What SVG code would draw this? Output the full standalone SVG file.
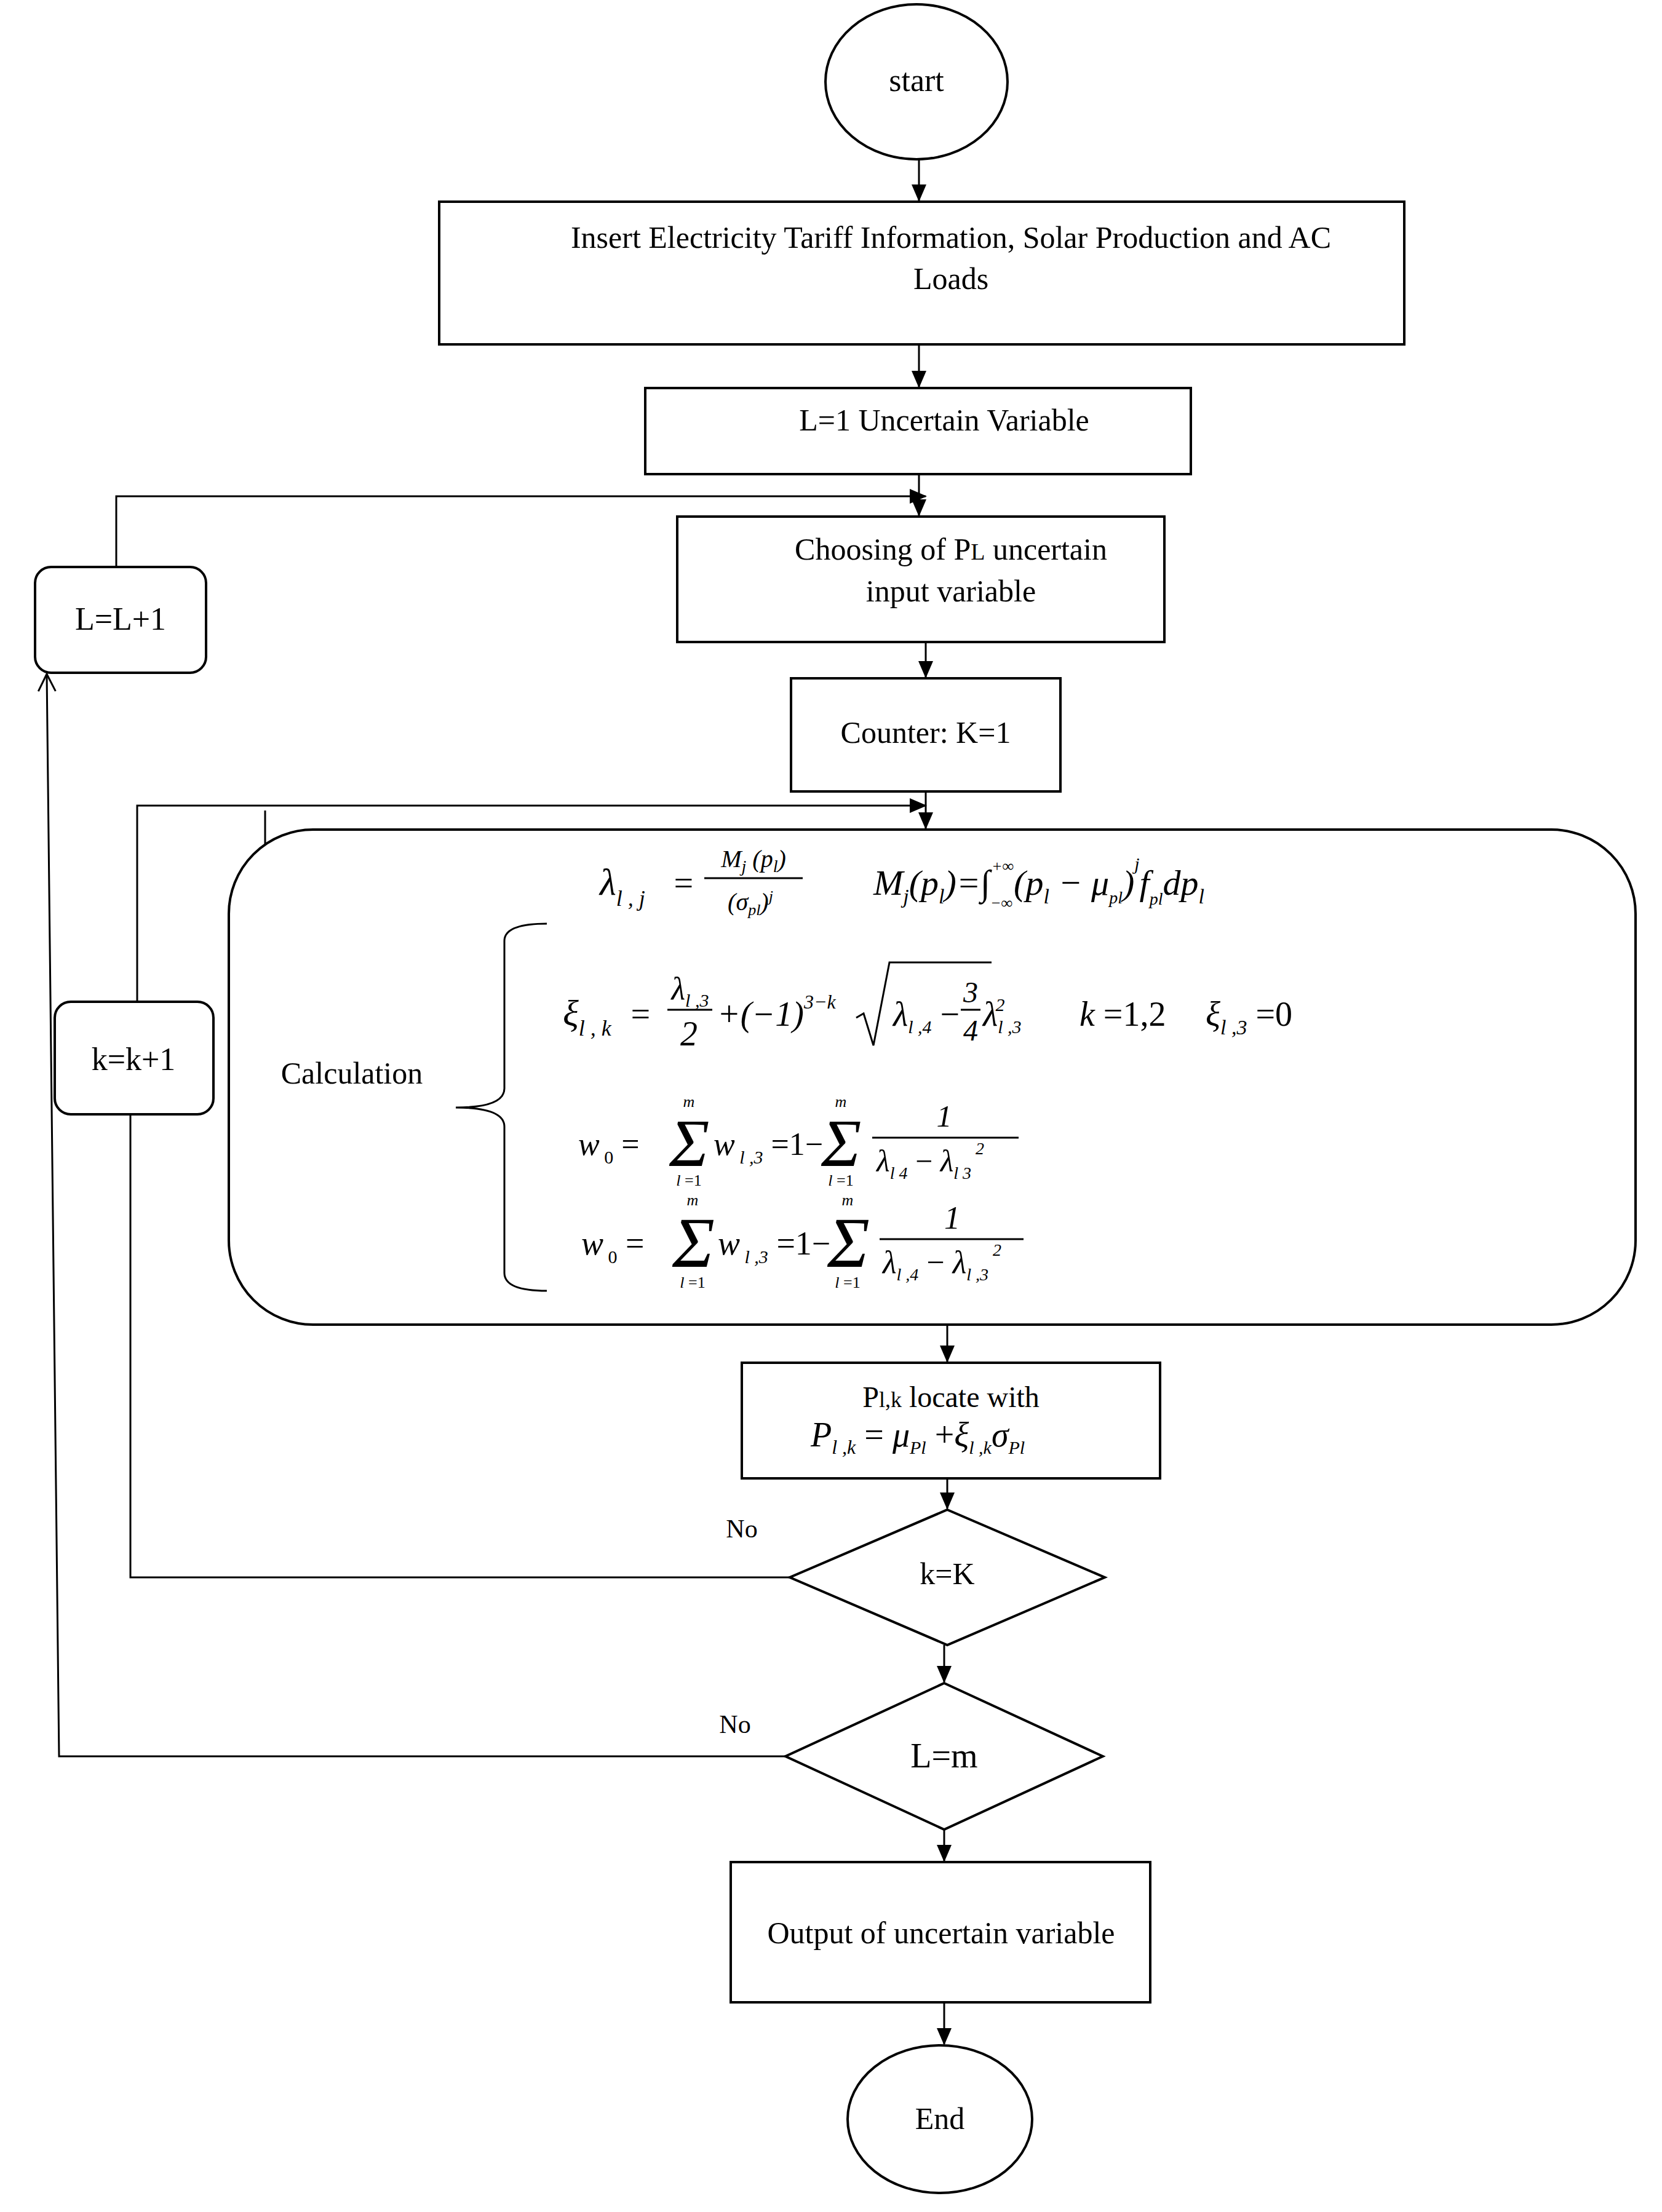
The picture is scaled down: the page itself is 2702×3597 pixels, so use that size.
<svg xmlns="http://www.w3.org/2000/svg" width="2702" height="3597" viewBox="0 0 2702 3597">
<defs>
<marker id="ahf" markerWidth="28" markerHeight="28" refX="26" refY="14" orient="auto" markerUnits="userSpaceOnUse"><path d="M0,2 L28,14 L0,26 z" fill="#000"/></marker>
<marker id="aho" markerWidth="32" markerHeight="32" refX="30" refY="16" orient="auto" markerUnits="userSpaceOnUse"><path d="M2,2 L30,16 L2,30" fill="none" stroke="#000" stroke-width="3"/></marker>
<style>
.n{fill:#fff;stroke:#000;stroke-width:4}
.t{font-family:"Liberation Serif",serif;font-size:52px;fill:#000;text-anchor:middle}
.m{font-family:"Liberation Serif",serif;font-style:italic;fill:#000}
.c{fill:none;stroke:#000;stroke-width:3}
.fl{stroke:#000;stroke-width:3}
</style>
</defs>
<rect width="2702" height="3597" fill="#fff"/>
<g id="connectors">
<line class="c" x1="1494" y1="259" x2="1494" y2="326" marker-end="url(#ahf)"/>
<line class="c" x1="1494" y1="560" x2="1494" y2="629" marker-end="url(#ahf)"/>
<line class="c" x1="1494" y1="771" x2="1494" y2="838" marker-end="url(#ahf)"/>
<polyline class="c" points="189,922 189,807 1505,807" marker-end="url(#ahf)"/>
<line class="c" x1="1505" y1="1044" x2="1505" y2="1101" marker-end="url(#ahf)"/>
<polyline class="c" points="223,1629 223,1310 1505,1310" marker-end="url(#ahf)"/>
<line class="c" x1="1505" y1="1287" x2="1505" y2="1347" marker-end="url(#ahf)"/>
<line class="c" x1="431" y1="1318" x2="431" y2="1400"/>
<line class="c" x1="1540" y1="2154" x2="1540" y2="2214" marker-end="url(#ahf)"/>
<line class="c" x1="1540" y1="2404" x2="1540" y2="2453" marker-end="url(#ahf)"/>
<polyline class="c" points="1284,2565 212,2565 212,1812"/>
<line class="c" x1="1535" y1="2675" x2="1535" y2="2735" marker-end="url(#ahf)"/>
<polyline class="c" points="1277,2856 96,2856 76,1096" marker-end="url(#aho)"/>
<line class="c" x1="1535" y1="2975" x2="1535" y2="3026" marker-end="url(#ahf)"/>
<line class="c" x1="1535" y1="3256" x2="1535" y2="3324" marker-end="url(#ahf)"/>
<text class="t" x="1206" y="2500" style="font-size:42px">No</text>
<text class="t" x="1195" y="2818" style="font-size:42px">No</text>
</g>
<g id="start"><ellipse class="n" cx="1490" cy="133" rx="148" ry="126"/><text class="t" x="1490" y="148">start</text></g>
<g id="insert"><rect class="n" x="714" y="328" width="1569" height="232"/><text class="t" x="1546" y="403" style="font-size:50px">Insert Electricity Tariff Information, Solar Production and AC</text><text class="t" x="1546" y="470" style="font-size:50px">Loads</text></g>
<g id="l1"><rect class="n" x="1049" y="631" width="887" height="140"/><text class="t" x="1535" y="700" style="font-size:50px">L=1 Uncertain Variable</text></g>
<g id="choose"><rect class="n" x="1101" y="840" width="792" height="204"/><text class="t" x="1546" y="910" style="font-size:50px">Choosing of P<tspan style="font-size:38px">L</tspan> uncertain</text><text class="t" x="1546" y="978" style="font-size:50px">input variable</text></g>
<g id="linc"><rect class="n" x="57" y="922" width="278" height="172" rx="26"/><text class="t" x="196" y="1024">L=L+1</text></g>
<g id="counter"><rect class="n" x="1286" y="1103" width="438" height="184"/><text class="t" x="1505" y="1208" style="font-size:50px">Counter: K=1</text></g>
<g id="kinc"><rect class="n" x="89" y="1629" width="258" height="183" rx="26"/><text class="t" x="217" y="1740">k=k+1</text></g>
<g id="calc">
<rect class="n" x="372" y="1349" width="2287" height="805" rx="137"/>
<text class="t" x="572" y="1762" style="font-size:50px">Calculation</text>
<path class="c" d="M889,1502 Q820,1502 820,1530 L820,1770 Q820,1801 741,1801 Q820,1801 820,1832 L820,2070 Q820,2099 889,2099" stroke-width="3"/>
<text class="m" x="975" y="1455" font-size="62">λ<tspan font-size="36" dy="18">l , j</tspan></text>
<text class="m" x="1092" y="1455" font-size="56" font-style="normal">=</text>
<text class="m" x="1225" y="1410" font-size="40" text-anchor="middle">M<tspan font-size="28" dy="8">j</tspan><tspan dy="-8"> (p</tspan><tspan font-size="28" dy="8">l</tspan><tspan dy="-8">)</tspan></text>
<line class="fl" x1="1145" y1="1428" x2="1305" y2="1428"/>
<text class="m" x="1220" y="1480" font-size="40" text-anchor="middle">(σ<tspan font-size="26" dy="8">pl</tspan><tspan dy="-8">)</tspan><tspan font-size="26" dy="-14">j</tspan></text>
<text class="m" x="1420" y="1455" font-size="58">M<tspan font-size="34" dy="14">j</tspan><tspan dy="-14">(p</tspan><tspan font-size="34" dy="14">l</tspan><tspan dy="-14">)=∫</tspan><tspan font-size="26" dy="22">−∞</tspan><tspan font-size="26" dx="-34" dy="-60">+∞</tspan><tspan dy="38">(p</tspan><tspan font-size="34" dy="14">l</tspan><tspan dy="-14"> − μ</tspan><tspan font-size="28" dy="14">pl</tspan><tspan dy="-14">)</tspan><tspan font-size="30" dy="-40">j</tspan><tspan dy="40">f</tspan><tspan font-size="28" dy="16">pl</tspan><tspan dy="-16">dp</tspan><tspan font-size="34" dy="14">l</tspan></text>
<text class="m" x="915" y="1668" font-size="60">ξ<tspan font-size="36" dy="16">l , k</tspan></text>
<text class="m" x="1022" y="1668" font-size="56" font-style="normal">=</text>
<text class="m" x="1122" y="1625" font-size="52" text-anchor="middle">λ<tspan font-size="30" dy="12">l ,3</tspan></text>
<line class="fl" x1="1085" y1="1642" x2="1158" y2="1642"/>
<text class="m" x="1120" y="1700" font-size="56" font-style="normal" text-anchor="middle">2</text>
<text class="m" x="1166" y="1668" font-size="56" font-style="normal">+(−1)<tspan font-size="32" dy="-28" font-style="italic">3−k</tspan></text>
<path class="c" d="M1392,1655 L1404,1648 L1420,1700 L1446,1565 L1612,1565" stroke-width="3"/>
<text class="m" x="1452" y="1668" font-size="56">λ<tspan font-size="30" dy="12">l ,4</tspan><tspan dy="-12" font-style="normal"> −</tspan></text>
<text class="m" x="1578" y="1630" font-size="48" font-style="normal" text-anchor="middle">3</text>
<line class="fl" x1="1562" y1="1642" x2="1594" y2="1642"/>
<text class="m" x="1578" y="1692" font-size="48" font-style="normal" text-anchor="middle">4</text>
<text class="m" x="1598" y="1668" font-size="56">λ<tspan font-size="30" dy="12">l ,3</tspan><tspan font-size="30" dx="-42" dy="-36">2</tspan></text>
<text class="m" x="1755" y="1668" font-size="56">k <tspan font-style="normal">=1,2</tspan></text>
<text class="m" x="1960" y="1668" font-size="56">ξ<tspan font-size="34" dy="14">l ,3</tspan><tspan dy="-14" font-style="normal"> =0</tspan></text>
<text class="m" x="940" y="1878" font-size="52">w<tspan font-size="30" dy="14" font-style="normal"> 0</tspan><tspan dy="-14" font-style="normal"> =</tspan></text>
<text class="m" x="1088" y="1896" font-size="110" font-style="normal">Σ</text>
<text class="m" x="1120" y="1800" font-size="26" text-anchor="middle">m</text>
<text class="m" x="1120" y="1928" font-size="26" text-anchor="middle">l <tspan font-style="normal">=1</tspan></text>
<text class="m" x="1160" y="1878" font-size="52">w<tspan font-size="30" dy="14"> l ,3</tspan><tspan dy="-14" font-style="normal"> =1−</tspan></text>
<text class="m" x="1335" y="1896" font-size="110" font-style="normal">Σ</text>
<text class="m" x="1367" y="1800" font-size="26" text-anchor="middle">m</text>
<text class="m" x="1367" y="1928" font-size="26" text-anchor="middle">l <tspan font-style="normal">=1</tspan></text>
<text class="m" x="1535" y="1832" font-size="50" font-style="normal" text-anchor="middle">1</text>
<line class="fl" x1="1418" y1="1850" x2="1656" y2="1850"/>
<text class="m" x="1425" y="1905" font-size="50">λ<tspan font-size="28" dy="12">l  4</tspan><tspan dy="-12" font-style="normal"> −</tspan> λ<tspan font-size="28" dy="12">l  3</tspan><tspan font-size="28" dy="-40"> 2</tspan></text>
<text class="m" x="945" y="2040" font-size="54">w<tspan font-size="30" dy="14" font-style="normal"> 0</tspan><tspan dy="-14" font-style="normal"> =</tspan></text>
<text class="m" x="1093" y="2060" font-size="116" font-style="normal">Σ</text>
<text class="m" x="1126" y="1960" font-size="26" text-anchor="middle">m</text>
<text class="m" x="1126" y="2094" font-size="26" text-anchor="middle">l <tspan font-style="normal">=1</tspan></text>
<text class="m" x="1167" y="2040" font-size="54">w<tspan font-size="30" dy="14"> l ,3</tspan><tspan dy="-14" font-style="normal"> =1−</tspan></text>
<text class="m" x="1345" y="2060" font-size="116" font-style="normal">Σ</text>
<text class="m" x="1378" y="1960" font-size="26" text-anchor="middle">m</text>
<text class="m" x="1378" y="2094" font-size="26" text-anchor="middle">l <tspan font-style="normal">=1</tspan></text>
<text class="m" x="1548" y="1998" font-size="52" font-style="normal" text-anchor="middle">1</text>
<line class="fl" x1="1430" y1="2015" x2="1664" y2="2015"/>
<text class="m" x="1435" y="2070" font-size="52">λ<tspan font-size="28" dy="12">l ,4</tspan><tspan dy="-12" font-style="normal"> −</tspan> λ<tspan font-size="28" dy="12">l ,3</tspan><tspan font-size="28" dy="-40"> 2</tspan></text>
</g>
<g id="locate"><rect class="n" x="1206" y="2216" width="680" height="188"/><text class="t" x="1546" y="2288" style="font-size:48px">P<tspan style="font-size:36px">l,k</tspan> locate with</text>
<text class="m" x="1318" y="2352" font-size="56">P<tspan font-size="32" dy="12">l ,k</tspan><tspan dy="-12" font-style="normal"> = </tspan>μ<tspan font-size="30" dy="12">Pl</tspan><tspan dy="-12" font-style="normal"> +</tspan>ξ<tspan font-size="30" dy="12">l ,k</tspan><tspan dy="-12">σ</tspan><tspan font-size="30" dy="12">Pl</tspan></text></g>
<g id="dk"><polygon class="n" points="1540,2455 1796,2565 1540,2675 1284,2565"/><text class="t" x="1540" y="2565" dominant-baseline="middle" style="font-size:50px">k=K</text></g>
<g id="dl"><polygon class="n" points="1535,2737 1793,2856 1535,2975 1277,2856"/><text class="t" x="1535" y="2874" style="font-size:56px">L=m</text></g>
<g id="output"><rect class="n" x="1188" y="3028" width="682" height="228"/><text class="t" x="1530" y="3160" style="font-size:50px">Output of uncertain variable</text></g>
<g id="end"><ellipse class="n" cx="1528" cy="3446" rx="150" ry="120"/><text class="t" x="1528" y="3462" style="font-size:50px">End</text></g>
</svg>
